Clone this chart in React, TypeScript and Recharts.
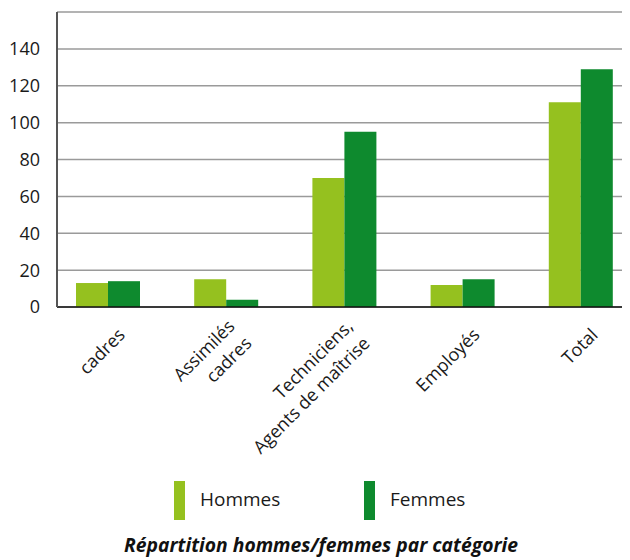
import { BarChart, Bar, XAxis, YAxis, CartesianGrid } from "recharts";

const categories = [
  "cadres",
  "Assimilés\ncadres",
  "Techniciens,\nAgents de maîtrise",
  "Employés",
  "Total",
];
const hommes = [13, 15, 70, 12, 111];
const femmes = [14, 4, 95, 15, 129];
const yTicks = [0, 20, 40, 60, 80, 100, 120, 140];

const colorHommes = "#95c11f";
const colorFemmes = "#0e8a2e";
const font = "'Open Sans', sans-serif";

const data = categories.map((category, i) => ({
  category,
  hommes: hommes[i],
  femmes: femmes[i],
}));

function CategoryTick({ x, y, payload }: any) {
  const lines = String(payload.value).split("\n");
  return (
    <g transform={`translate(${x + 18},${y + 29}) rotate(-45)`}>
      {lines.map((line, i) => (
        <text
          key={line}
          x={0}
          y={(i - (lines.length - 1) / 2) * 24}
          textAnchor="end"
          fontSize={18}
          fill="#1a1a1a"
        >
          {line}
        </text>
      ))}
    </g>
  );
}

function LegendItem({ left, color, label }: { left: number; color: string; label: string }) {
  return (
    <>
      <div
        style={{
          position: "absolute",
          left,
          top: 473,
          width: 11,
          height: 39,
          background: color,
        }}
      />
      <div
        style={{
          position: "absolute",
          left: left + 26,
          top: 480,
          fontSize: 19,
          lineHeight: "22px",
          color: "#1a1a1a",
        }}
      >
        {label}
      </div>
    </>
  );
}

export default function App() {
  return (
    <div style={{ position: "relative", width: 622, height: 552, fontFamily: font }}>
      <style>{`body{overflow:hidden}`}</style>
      <BarChart
        width={622}
        height={544}
        data={data}
        margin={{ top: 4, right: 0, left: 0, bottom: 0 }}
        barGap={0}
        barSize={32}
      >
        <CartesianGrid vertical={false} stroke="#9a9a9a" strokeWidth={1.5} />
        <XAxis
          dataKey="category"
          height={245}
          padding={{ left: -8, right: -10 }}
          axisLine={{ stroke: "#111", strokeWidth: 1.5 }}
          tickLine={false}
          tickSize={0}
          tickMargin={0}
          interval={0}
          tick={<CategoryTick />}
        />
        <YAxis
          width={49}
          domain={[0, 160]}
          ticks={yTicks}
          axisLine={{ stroke: "#555", strokeWidth: 2 }}
          tickLine={false}
          tickSize={0}
          tickMargin={17}
          tick={{ fontSize: 18, fill: "#1a1a1a" }}
        />
        <Bar dataKey="hommes" fill={colorHommes} isAnimationActive={false} />
        <Bar dataKey="femmes" fill={colorFemmes} isAnimationActive={false} />
      </BarChart>
      <LegendItem left={166} color={colorHommes} label="Hommes" />
      <LegendItem left={356} color={colorFemmes} label="Femmes" />
      <div
        style={{
          position: "absolute",
          left: 0,
          width: 626,
          top: 527,
          textAlign: "center",
          fontSize: 19.3,
          lineHeight: "20px",
          fontWeight: 700,
          fontStyle: "italic",
          color: "#111",
        }}
      >
        Répartition hommes/femmes par catégorie
      </div>
    </div>
  );
}
